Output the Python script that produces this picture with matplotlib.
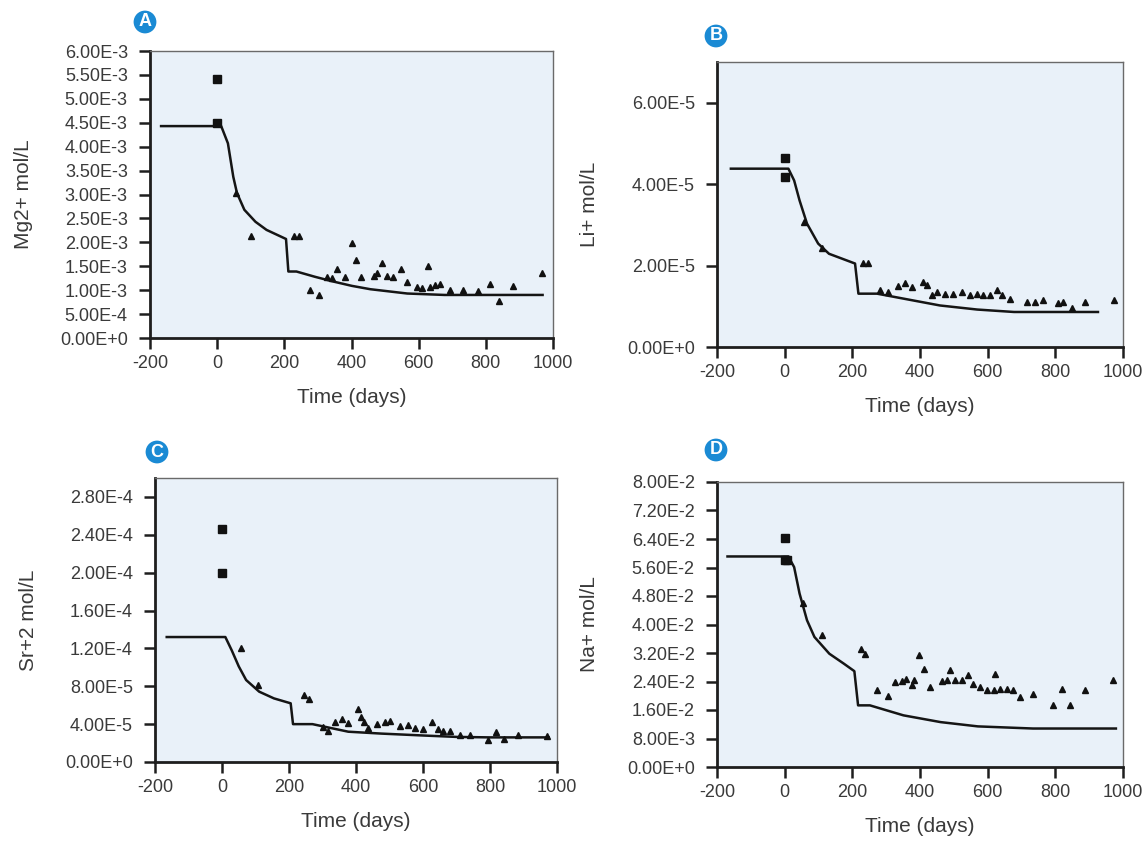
import numpy as np
import matplotlib
matplotlib.use('Agg')
import matplotlib.pyplot as plt
from matplotlib.ticker import FuncFormatter

plt.rcParams['font.family'] = 'sans-serif'
plt.rcParams['font.sans-serif'] = ['Liberation Sans', 'DejaVu Sans']
plt.rcParams['axes.unicode_minus'] = False

# ---- panel A : Mg2+ ----
mg_model_t = [-167, 12, 32, 48, 59, 81, 114, 147, 205, 212, 236, 291, 346, 401, 456, 566, 677, 969]
mg_model_v = [4.43e-3, 4.43e-3, 4.07e-3, 3.37e-3, 3.03e-3, 2.68e-3, 2.43e-3, 2.26e-3, 2.07e-3, 1.39e-3,
              1.39e-3, 1.28e-3, 1.18e-3, 1.09e-3, 1.02e-3, 0.93e-3, 0.90e-3, 0.90e-3]
mg_init_t = [0, 0]
mg_init_v = [5.41e-3, 4.49e-3]
mg_obs_t = [55, 102, 230, 244, 276, 304, 326, 342, 358, 381, 401, 413, 427, 467, 477, 490, 505, 523,
            547, 564, 594, 609, 627, 634, 649, 664, 693, 733, 778, 812, 840, 881, 968]
mg_obs_v = [3.04e-3, 2.13e-3, 2.13e-3, 2.13e-3, 1.00e-3, 0.90e-3, 1.27e-3, 1.25e-3, 1.44e-3, 1.27e-3,
            1.98e-3, 1.64e-3, 1.27e-3, 1.30e-3, 1.35e-3, 1.57e-3, 1.30e-3, 1.28e-3, 1.44e-3, 1.18e-3,
            1.07e-3, 1.04e-3, 1.50e-3, 1.07e-3, 1.11e-3, 1.13e-3, 1.00e-3, 1.00e-3, 0.99e-3, 1.12e-3,
            0.77e-3, 1.09e-3, 1.35e-3]

# ---- panel B : Li+ ----
li_model_t = [-159, 11, 28, 44, 66, 99, 131, 208, 218, 273, 350, 459, 569, 678, 926]
li_model_v = [4.38e-5, 4.38e-5, 4.09e-5, 3.6e-5, 3.03e-5, 2.54e-5, 2.29e-5, 2.05e-5, 1.31e-5, 1.31e-5,
              1.19e-5, 1.02e-5, 0.92e-5, 0.86e-5, 0.86e-5]
li_init_t = [0, 0]
li_init_v = [4.63e-5, 4.18e-5]
li_obs_t = [57, 110, 232, 246, 282, 306, 336, 356, 376, 410, 420, 435, 450, 474, 499, 524, 548, 568,
            587, 607, 627, 642, 666, 716, 740, 765, 809, 822, 849, 887, 973]
li_obs_v = [3.07e-5, 2.42e-5, 2.07e-5, 2.07e-5, 1.39e-5, 1.35e-5, 1.49e-5, 1.56e-5, 1.47e-5, 1.60e-5,
            1.52e-5, 1.27e-5, 1.35e-5, 1.31e-5, 1.31e-5, 1.35e-5, 1.27e-5, 1.30e-5, 1.27e-5, 1.27e-5,
            1.41e-5, 1.27e-5, 1.19e-5, 1.11e-5, 1.10e-5, 1.15e-5, 1.08e-5, 1.10e-5, 0.97e-5, 1.10e-5,
            1.15e-5]

# ---- panel C : Sr+2 ----
sr_model_t = [-165, 10, 29, 50, 72, 111, 155, 205, 212, 270, 377, 476, 600, 700, 800, 975]
sr_model_v = [1.32e-4, 1.32e-4, 1.18e-4, 1.01e-4, 8.66e-5, 7.43e-5, 6.72e-5, 6.2e-5, 4.0e-5, 4.0e-5,
              3.2e-5, 3.0e-5, 2.8e-5, 2.65e-5, 2.6e-5, 2.6e-5]
sr_init_t = [0, 0]
sr_init_v = [2.46e-4, 2.0e-4]
sr_obs_t = [56, 106, 246, 261, 300, 317, 337, 357, 377, 405, 415, 425, 435, 462, 487, 500, 531, 556,
            576, 601, 627, 645, 661, 681, 711, 740, 794, 819, 841, 885, 970]
sr_obs_v = [1.20e-4, 8.1e-5, 7.1e-5, 6.7e-5, 3.7e-5, 3.3e-5, 4.2e-5, 4.5e-5, 4.1e-5, 5.6e-5, 4.8e-5,
            4.2e-5, 3.6e-5, 4.0e-5, 4.2e-5, 4.3e-5, 3.8e-5, 3.9e-5, 3.6e-5, 3.5e-5, 4.2e-5, 3.5e-5,
            3.3e-5, 3.3e-5, 2.9e-5, 2.85e-5, 2.3e-5, 3.2e-5, 2.4e-5, 2.9e-5, 2.75e-5]

# ---- panel D : Na+ ----
na_model_t = [-169, 11, 28, 44, 66, 88, 132, 175, 206, 217, 252, 351, 461, 571, 734, 979]
na_model_v = [5.91e-2, 5.91e-2, 5.61e-2, 4.87e-2, 4.12e-2, 3.65e-2, 3.18e-2, 2.9e-2, 2.69e-2, 1.73e-2,
              1.73e-2, 1.45e-2, 1.26e-2, 1.14e-2, 1.08e-2, 1.08e-2]
na_init_t = [0, 0, 8]
na_init_v = [6.44e-2, 5.80e-2, 5.80e-2]
na_obs_t = [53, 110, 225, 237, 272, 304, 326, 346, 359, 376, 383, 398, 412, 430, 465, 480, 489, 504,
            524, 543, 558, 578, 598, 618, 622, 637, 657, 676, 696, 735, 794, 819, 843, 887, 971]
na_obs_v = [4.6e-2, 3.7e-2, 3.32e-2, 3.18e-2, 2.17e-2, 1.98e-2, 2.39e-2, 2.41e-2, 2.48e-2, 2.29e-2,
            2.45e-2, 3.13e-2, 2.76e-2, 2.25e-2, 2.41e-2, 2.43e-2, 2.73e-2, 2.45e-2, 2.43e-2, 2.57e-2,
            2.34e-2, 2.25e-2, 2.17e-2, 2.17e-2, 2.60e-2, 2.2e-2, 2.2e-2, 2.15e-2, 1.97e-2, 2.05e-2,
            1.73e-2, 2.2e-2, 1.73e-2, 2.15e-2, 2.43e-2]

x_ticks = [-200, 0, 200, 400, 600, 800, 1000]
mg_yticks = np.arange(0, 6.01e-3, 0.5e-3)
li_yticks = [0, 2e-5, 4e-5, 6e-5]
sr_yticks = np.arange(0, 2.81e-4, 0.4e-4)
na_yticks = np.arange(0, 8.01e-2, 0.8e-2)

W, H = 1146, 843


def sci_fmt(v, pos=None):
    if abs(v) < 1e-15:
        return '0.00E+0'
    e = int(np.floor(np.log10(abs(v)) + 1e-9))
    m = v / 10 ** e
    if round(m, 2) >= 10:
        m /= 10
        e += 1
    return f"{m:.2f}E{e:+d}"


def draw_panel(fig, box, letter, letter_xy, ylabel, ylim, yticks, model, init, obs, label_x):
    l, r, t, b = box
    ax = fig.add_axes([l / W, 1 - b / H, (r - l) / W, (b - t) / H])
    ax.set_facecolor('#e9f1f9')

    ax.plot(model[0], model[1], color='#151515', lw=1.8, zorder=3)
    ax.plot(init[0], init[1], ls='none', marker='s', ms=6, color='#111111', zorder=4)
    ax.plot(obs[0], obs[1], ls='none', marker='^', ms=5, color='#111111', zorder=4)

    ax.set_xlim(-200, 1000)
    ax.set_ylim(*ylim)
    ax.set_xticks(x_ticks)
    ax.set_yticks(yticks)
    ax.yaxis.set_major_formatter(FuncFormatter(sci_fmt))

    for s in ['left', 'bottom']:
        ax.spines[s].set_linewidth(2.0)
        ax.spines[s].set_color('#1e1e1e')
    for s in ['top', 'right']:
        ax.spines[s].set_linewidth(1.0)
        ax.spines[s].set_color('#6a6a6a')

    ax.tick_params(axis='y', direction='out', length=8, width=1.8, pad=8,
                   labelsize=13, labelcolor='#3a3a3a', color='#1e1e1e')
    ax.tick_params(axis='x', direction='out', length=8, width=1.8, pad=4,
                   labelsize=13, labelcolor='#3a3a3a', color='#1e1e1e')

    ax.set_xlabel('Time (days)', fontsize=15, color='#3a3a3a')
    ax.xaxis.set_label_coords(0.5, -0.175)
    ax.set_ylabel(ylabel, fontsize=15, color='#3a3a3a')
    ax.yaxis.set_label_coords(label_x, 0.5)

    fig.text(letter_xy[0] / W, 1 - letter_xy[1] / H, letter, color='white', fontsize=13,
             fontweight='bold', ha='center', va='center',
             bbox=dict(boxstyle='circle,pad=0.16', fc='#1a8ad4', ec='none'))
    return ax


fig = plt.figure(figsize=(W / 100, H / 100), dpi=100, facecolor='w')

draw_panel(fig, (150, 553, 51, 338), 'A', (145, 22), 'Mg2+ mol/L', (0, 6e-3), mg_yticks,
           (mg_model_t, mg_model_v), (mg_init_t, mg_init_v), (mg_obs_t, mg_obs_v), -0.29)
draw_panel(fig, (717, 1123, 62, 347), 'B', (716, 36), 'Li+ mol/L', (0, 7e-5), li_yticks,
           (li_model_t, li_model_v), (li_init_t, li_init_v), (li_obs_t, li_obs_v), -0.29)
draw_panel(fig, (155, 557, 478, 762), 'C', (157, 452), 'Sr+2 mol/L', (0, 3e-4), sr_yticks,
           (sr_model_t, sr_model_v), (sr_init_t, sr_init_v), (sr_obs_t, sr_obs_v), -0.29)
draw_panel(fig, (717, 1123, 482, 767), 'D', (716, 450), 'Na+ mol/L', (0, 8e-2), na_yticks,
           (na_model_t, na_model_v), (na_init_t, na_init_v), (na_obs_t, na_obs_v), -0.29)

fig.savefig('out.png', dpi=100, facecolor='w')
